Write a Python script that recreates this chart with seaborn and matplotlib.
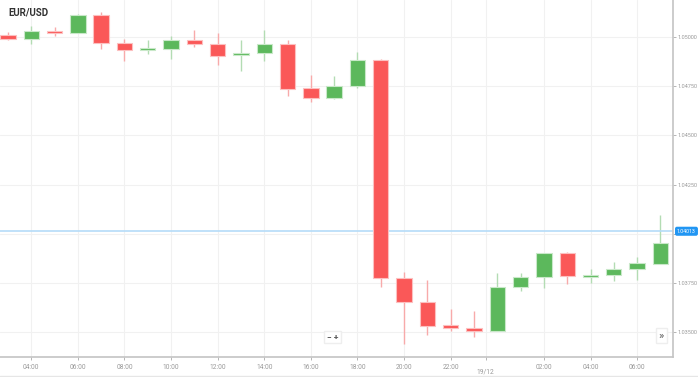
import numpy as np
import matplotlib
matplotlib.use("Agg")
import matplotlib.pyplot as plt
import seaborn as sns

# Hourly EUR/USD candles, 18/12 03:00 -> 19/12 07:00
hours = ["03:00", "04:00", "05:00", "06:00", "07:00", "08:00", "09:00", "10:00",
         "11:00", "12:00", "13:00", "14:00", "15:00", "16:00", "17:00", "18:00",
         "19:00", "20:00", "21:00", "22:00", "23:00", "00:00", "01:00", "02:00",
         "03:00", "04:00", "05:00", "06:00", "07:00"]
opens = [1.05010, 1.04990, 1.05029, 1.05020, 1.05112, 1.04970, 1.04934, 1.04939,
         1.04985, 1.04964, 1.04909, 1.04919, 1.04964, 1.04741, 1.04690, 1.04751,
         1.04883, 1.03776, 1.03654, 1.03537, 1.03521, 1.03506, 1.03730, 1.03781,
         1.03902, 1.03781, 1.03791, 1.03821, 1.03847]
highs = [1.05025, 1.05056, 1.05051, 1.05117, 1.05127, 1.04990, 1.04985, 1.05005,
         1.05036, 1.05020, 1.04985, 1.05036, 1.04985, 1.04807, 1.04802, 1.04924,
         1.04888, 1.03806, 1.03765, 1.03618, 1.03608, 1.03801, 1.03801, 1.03902,
         1.03908, 1.03821, 1.03857, 1.03882, 1.04096]
lows = [1.04985, 1.04964, 1.05005, 1.05020, 1.04939, 1.04878, 1.04914, 1.04888,
        1.04949, 1.04858, 1.04827, 1.04878, 1.04700, 1.04670, 1.04685, 1.04741,
        1.03730, 1.03440, 1.03486, 1.03506, 1.03476, 1.03506, 1.03709, 1.03725,
        1.03745, 1.03750, 1.03760, 1.03765, 1.03847]
closes = [1.04990, 1.05030, 1.05020, 1.05112, 1.04970, 1.04934, 1.04944, 1.04985,
          1.04964, 1.04903, 1.04919, 1.04964, 1.04736, 1.04690, 1.04751, 1.04883,
          1.03776, 1.03654, 1.03532, 1.03521, 1.03506, 1.03730, 1.03781, 1.03902,
          1.03786, 1.03791, 1.03821, 1.03852, 1.03953]
last_price = 1.04013

y_ticks = [1.03500, 1.03750, 1.04000, 1.04250, 1.04500, 1.04750, 1.05000]

sns.set_theme(style="white")
plt.rcParams["font.family"] = ["Roboto", "DejaVu Sans"]

RED = "#fa5858"
GREEN = "#5cb85c"
RED_WICK = "#f8aaaa"
GREEN_WICK = "#b3dcb3"

fig = plt.figure(figsize=(6.98, 3.77), dpi=100)
ax = fig.add_axes([0, 20 / 377, 673 / 698, 357 / 377])

x = np.arange(len(hours))
o = np.array(opens)
c = np.array(closes)
up = c >= o

# even hours get a tick, midnight is shown as the date instead
tick_pos = [i for i, h in enumerate(hours) if int(h[:2]) % 2 == 0 and h != "00:00"]
tick_lab = [hours[i] for i in tick_pos]
date_pos = 20.5

for p in tick_pos + [date_pos]:
    ax.axvline(p, color="#f1f1f1", lw=0.8, zorder=0)
for yt in y_ticks:
    ax.axhline(yt, color="#f1f1f1", lw=0.8, zorder=0)

# wicks
ax.vlines(x[up], np.array(lows)[up], np.array(highs)[up], color=GREEN_WICK, lw=1, zorder=1)
ax.vlines(x[~up], np.array(lows)[~up], np.array(highs)[~up], color=RED_WICK, lw=1, zorder=1)

# bodies
body_lo = np.minimum(o, c)
body_h = np.maximum(np.abs(c - o), 0.00002)
ax.bar(x[up], body_h[up], bottom=body_lo[up], width=0.66, color=GREEN,
       edgecolor="#c9e8c9", linewidth=0.8, zorder=2)
ax.bar(x[~up], body_h[~up], bottom=body_lo[~up], width=0.66, color=RED,
       edgecolor="#fcc0c0", linewidth=0.8, zorder=2)

# current price line
ax.axhline(last_price, color="#b5dcf8", lw=1.2, zorder=1)

ax.set_xlim(-0.34, 28.54)
ax.set_ylim(1.03374, 1.05188)

ax.set_xticks(tick_pos + [date_pos])
ax.set_xticklabels(tick_lab + [""])
ax.yaxis.tick_right()
ax.set_yticks(y_ticks)
ax.set_yticklabels([f"{v:.5f}" if abs(v - 1.04) > 1e-9 else "" for v in y_ticks])
ax.tick_params(axis="x", labelsize=4.8, colors="#999999", length=2, width=0.5, pad=3)
ax.tick_params(axis="y", labelsize=4, colors="#999999", length=2, width=0.5, pad=1.5)
ax.tick_params(axis="both", which="both", bottom=True, right=True, left=False)

for side in ["top", "left"]:
    ax.spines[side].set_visible(False)
for side in ["right", "bottom"]:
    ax.spines[side].set_color("#c4c4c4")
    ax.spines[side].set_linewidth(1.2)

ax.text(date_pos, -0.032, "19/12", transform=ax.get_xaxis_transform(),
        ha="center", va="top", fontsize=4.8, color="#999999")

# last price label
ax.text(1.006, last_price, "1.04013", transform=ax.get_yaxis_transform(),
        ha="left", va="center", fontsize=3.8, color="white", zorder=5, clip_on=False,
        bbox=dict(boxstyle="round,pad=0.25", fc="#2196f3", ec="#2196f3"))

ax.text(0.012, 0.98, "EUR/USD", transform=ax.transAxes, ha="left", va="top",
        fontsize=7, fontweight="bold", color="#333333")

# zoom buttons
ax.text(0.494, 0.055, "\u2212 +", transform=ax.transAxes, ha="center", va="center",
        fontsize=6, color="#555555", fontweight="bold",
        bbox=dict(boxstyle="square,pad=0.3", fc="white", ec="#eeeeee"))
ax.text(0.983, 0.06, "\u00bb", transform=ax.transAxes, ha="center", va="center",
        fontsize=8, color="#555555",
        bbox=dict(boxstyle="square,pad=0.25", fc="white", ec="#eeeeee"))

fig.add_artist(plt.Line2D([0, 1], [1 / 377, 1 / 377], color="#e6e6e6", lw=1))

fig.savefig("out.png", dpi=100)
